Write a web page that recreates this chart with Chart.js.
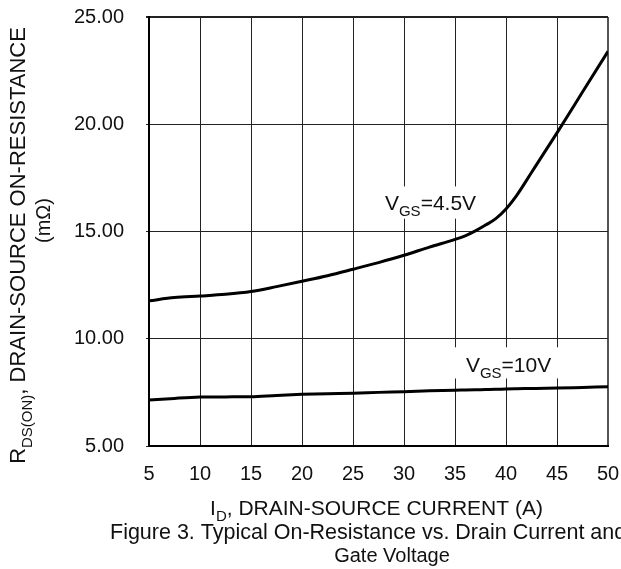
<!DOCTYPE html>
<html>
<head>
<meta charset="utf-8">
<script src="https://cdn.jsdelivr.net/npm/chart.js@4.4.1/dist/chart.umd.min.js"></script>
<style>
  html, body { margin: 0; padding: 0; background: #fff; overflow: hidden; }
  #wrap { width: 621px; height: 569px; }
</style>
</head>
<body>
<div id="wrap"><canvas id="rdsChart" width="621" height="569"></canvas></div>
<script>
'use strict';

// drain current (A)
var currents = [5, 7.5, 10, 12.5, 15, 17.5, 20, 22.5, 25, 27.5, 30, 32.5, 35, 36, 37, 38, 39, 40, 41, 42.5, 45, 47.5, 50];
// R DS(on) in mOhm
var rdsVgs45 = [11.77, 11.92, 11.99, 12.07, 12.2, 12.43, 12.68, 12.94, 13.24, 13.55, 13.89, 14.27, 14.63, 14.8, 15.03, 15.3, 15.6, 16.05, 16.65, 17.75, 19.6, 21.5, 23.4];
var rdsVgs10 = [7.14, 7.22, 7.28, 7.29, 7.30, 7.36, 7.41, 7.44, 7.46, 7.50, 7.53, 7.57, 7.60, 7.61, 7.62, 7.63, 7.64, 7.66, 7.67, 7.68, 7.70, 7.73, 7.76];

var xTicks = [5, 10, 15, 20, 25, 30, 35, 40, 45, 50];
var yTicks = [5, 10, 15, 20, 25];

var FONT = '"Liberation Sans", Arial, sans-serif';
var TEXT = '#111';

function points(ys) {
    return currents.map(function (c, i) { return { x: c, y: ys[i] }; });
}

// text with subscripts: parts = [[text, isSub], ...]
function richWidth(ctx, parts, size) {
    var w = 0;
    parts.forEach(function (p) {
        ctx.font = (p[1] ? Math.round(size * 0.7) : size) + 'px ' + FONT;
        w += ctx.measureText(p[0]).width;
    });
    return w;
}

function drawRich(ctx, parts, x, y, size, align) {
    var w = richWidth(ctx, parts, size);
    var cx = align === 'center' ? x - w / 2 : x;
    ctx.fillStyle = TEXT;
    ctx.textBaseline = 'alphabetic';
    ctx.textAlign = 'left';
    parts.forEach(function (p) {
        ctx.font = (p[1] ? Math.round(size * 0.7) : size) + 'px ' + FONT;
        ctx.fillText(p[0], cx, p[1] ? y + size * 0.3 : y);
        cx += ctx.measureText(p[0]).width;
    });
}

// curve labels, anchored in data units
var curveLabels = [
    { parts: [['V', false], ['GS', true], ['=4.5V', false]], x: 32.6, y: 16.0, box: [27.6, 37.3, 15.6, 17.1] },
    { parts: [['V', false], ['GS', true], ['=10V', false]], x: 40.25, y: 8.45, box: [34.8, 45.3, 8.15, 9.6] }
];

var textPlugin = {
    id: 'textPlugin',
    afterDatasetsDraw: function (chart) {
        var ctx = chart.ctx;
        var xs = chart.scales.x, ys = chart.scales.y;
        var area = chart.chartArea;
        ctx.save();

        curveLabels.forEach(function (l) {
            var bx0 = xs.getPixelForValue(l.box[0]), bx1 = xs.getPixelForValue(l.box[1]);
            var by0 = ys.getPixelForValue(l.box[3]), by1 = ys.getPixelForValue(l.box[2]);
            ctx.fillStyle = '#fff';
            ctx.fillRect(bx0, by0, bx1 - bx0, by1 - by0);
            drawRich(ctx, l.parts, xs.getPixelForValue(l.x), ys.getPixelForValue(l.y), 21, 'center');
        });

        // x axis title
        var midX = (area.left + area.right) / 2;
        drawRich(ctx, [['I', false], ['D', true], [', DRAIN-SOURCE CURRENT (A)', false]], midX - 2, area.bottom + 69, 21, 'center');

        // figure caption (first line runs off the right edge)
        drawRich(ctx, [['Figure 3. Typical On-Resistance vs. Drain Current and', false]], 110, area.bottom + 93, 21.5, 'left');
        drawRich(ctx, [['Gate Voltage', false]], 392, area.bottom + 116, 20, 'center');

        // y axis title, rotated
        var midY = (area.top + area.bottom) / 2;
        ctx.save();
        ctx.translate(25, midY + 14);
        ctx.rotate(-Math.PI / 2);
        drawRich(ctx, [['R', false], ['DS(ON)', true], [', DRAIN-SOURCE ON-RESISTANCE', false]], 0, 0, 22, 'center');
        ctx.restore();
        ctx.save();
        ctx.translate(50, midY - 11);
        ctx.rotate(-Math.PI / 2);
        drawRich(ctx, [['(m\u03A9)', false]], 0, 0, 20, 'center');
        ctx.restore();

        ctx.restore();
    }
};

var rdsChart = new Chart(document.getElementById('rdsChart'), {
    type: 'line',
    data: {
        datasets: [
            {
                label: 'VGS=4.5V',
                data: points(rdsVgs45),
                borderColor: '#000',
                borderWidth: 3,
                pointRadius: 0,
                fill: false,
                cubicInterpolationMode: 'monotone'
            },
            {
                label: 'VGS=10V',
                data: points(rdsVgs10),
                borderColor: '#000',
                borderWidth: 3,
                pointRadius: 0,
                fill: false,
                cubicInterpolationMode: 'monotone'
            }
        ]
    },
    options: {
        responsive: false,
        animation: false,
        devicePixelRatio: 1,
        layout: { padding: { left: 0, right: 13, top: 17, bottom: 0 } },
        plugins: {
            legend: { display: false },
            tooltip: { enabled: false },
            title: { display: false }
        },
        scales: {
            x: {
                type: 'linear',
                min: xTicks[0],
                max: xTicks[xTicks.length - 1],
                afterBuildTicks: function (s) { s.ticks = xTicks.map(function (v) { return { value: v }; }); },
                afterFit: function (s) {
                    s.height = 123;
                    s.paddingLeft = 0; s.paddingRight = 0; s.paddingTop = 0; s.paddingBottom = 0;
                },
                ticks: {
                    color: TEXT,
                    font: { family: FONT, size: 20 },
                    padding: 16,
                    maxRotation: 0,
                    autoSkip: false
                },
                grid: {
                    color: function (c) { return c.tick && c.tick.value === 50 ? '#555' : '#222'; },
                    lineWidth: function (c) { return c.tick && c.tick.value === 50 ? 2 : 1; },
                    drawTicks: false
                },
                border: { color: '#000', width: 2 }
            },
            y: {
                type: 'linear',
                min: yTicks[0],
                max: yTicks[yTicks.length - 1],
                afterBuildTicks: function (s) { s.ticks = yTicks.map(function (v) { return { value: v }; }); },
                afterFit: function (s) {
                    s.width = 149;
                    s.paddingLeft = 0; s.paddingRight = 0; s.paddingTop = 0; s.paddingBottom = 0;
                },
                ticks: {
                    color: TEXT,
                    font: { family: FONT, size: 20 },
                    padding: 22,
                    callback: function (v) { return Number(v).toFixed(2); }
                },
                grid: {
                    color: '#222',
                    lineWidth: function (c) { return c.tick && c.tick.value === 25 ? 2 : 1; },
                    tickLength: 3
                },
                border: { color: '#000', width: 2 }
            }
        }
    },
    plugins: [textPlugin]
});
</script>
</body>
</html>
